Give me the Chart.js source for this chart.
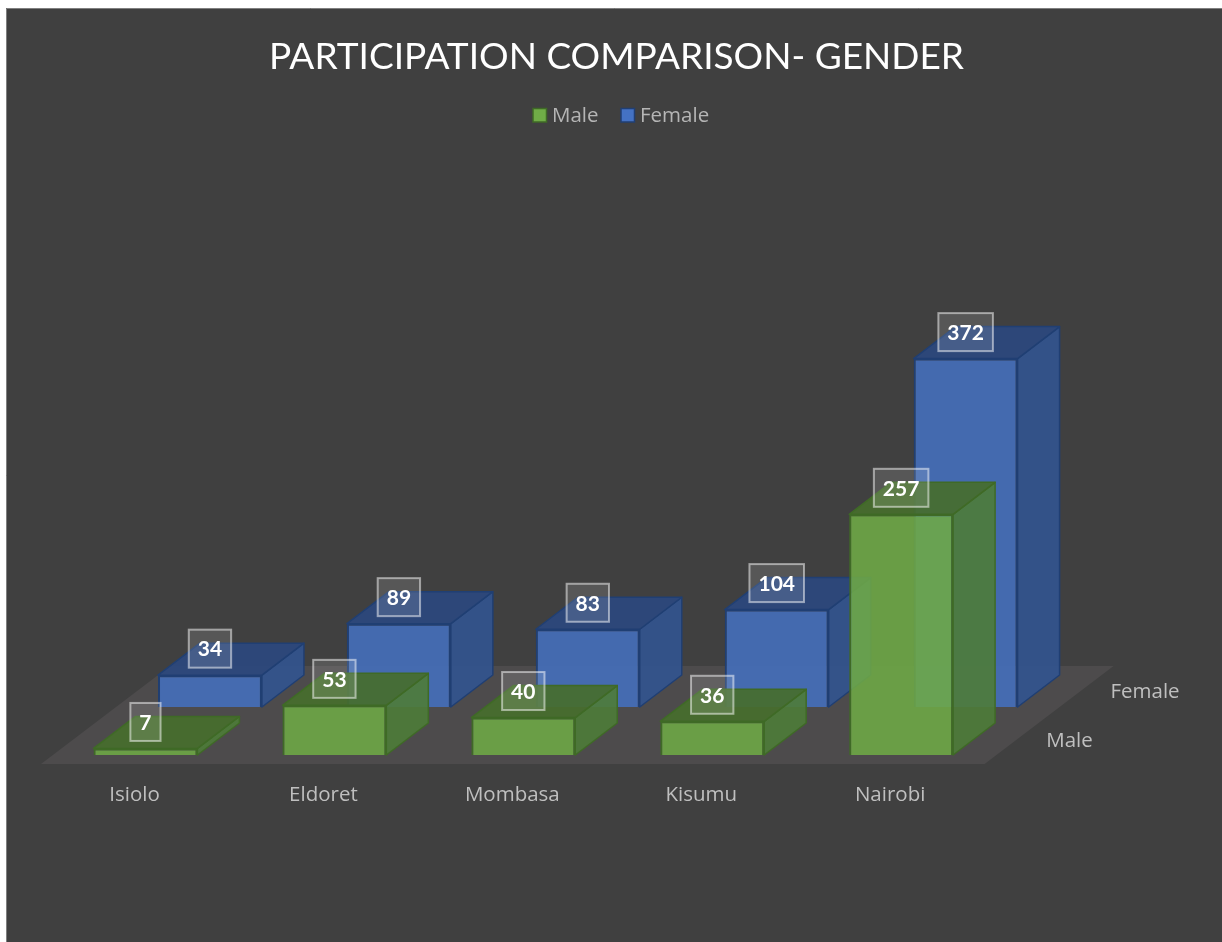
<!DOCTYPE html>
<html>
<head>
<meta charset="utf-8">
<style>html,body{margin:0;padding:0;background:#fff}canvas{display:block}</style>
<script src="https://cdn.jsdelivr.net/npm/chart.js@4"></script>
</head>
<body>
<div style="width:1222px;height:942px"><canvas id="c" width="1222" height="942"></canvas></div>
<script>
const categories = ['Isiolo', 'Eldoret', 'Mombasa', 'Kisumu', 'Nairobi'];
const maleValues = [7, 53, 40, 36, 257];
const femaleValues = [34, 89, 83, 104, 372];
const seriesNames = ['Male', 'Female'];
const chartTitle = 'PARTICIPATION COMPARISON- GENDER';

const LABEL_FONT = 'Open Sans';
const DEPTH = {dx: 42, dy: -32};
const SERIES_SHIFT = {dx: 64.5, dy: -48};
const looks = [
  {swatch: '#70ad47', front: 'rgba(110,170,70,0.88)', top: 'rgba(70,110,44,0.92)', side: 'rgba(78,124,56,0.9)', line: '#3f6a26', shift: {dx: 0, dy: 0}, axis: {x: 1069.5, y: 741}, legendX: 533},
  {swatch: '#4472c4', front: 'rgba(68,112,190,0.88)', top: 'rgba(43,72,126,0.92)', side: 'rgba(50,84,142,0.92)', line: '#203f73', shift: SERIES_SHIFT, axis: {x: 1145, y: 692}, legendX: 621}
];

function poly(ctx, pts, fill, line) {
  ctx.beginPath();
  pts.forEach((p, i) => i ? ctx.lineTo(p[0], p[1]) : ctx.moveTo(p[0], p[1]));
  ctx.closePath();
  ctx.fillStyle = fill;
  ctx.fill();
  if (line) { ctx.strokeStyle = line; ctx.lineWidth = 1.5; ctx.lineJoin = 'round'; ctx.stroke(); }
}

const scene = {
  id: 'scene',
  beforeDraw(chart) {
    const {ctx, width, height} = chart;
    ctx.save();
    ctx.fillStyle = '#fff';
    ctx.fillRect(0, 0, width, height);
    ctx.fillStyle = '#404040';
    ctx.fillRect(6, 8, width - 6, height - 8);
    ctx.strokeStyle = '#7f7f7f';
    ctx.lineWidth = 1;
    ctx.beginPath();
    ctx.moveTo(6.5, height); ctx.lineTo(6.5, 8.5); ctx.lineTo(width, 8.5);
    ctx.stroke();
    ctx.restore();
  },
  beforeDatasetsDraw(chart) {
    const {ctx, chartArea: a} = chart;
    const l = a.left - 10, r = a.right - 11, b = a.bottom + 9;
    poly(ctx, [[l, b], [r, b], [r + 129, b - 98], [l + 129, b - 98]], '#4d4b4c');
  },
  beforeDatasetDraw(chart, args) {
    const {ctx} = chart;
    const look = looks[args.index];
    ctx.save();
    ctx.translate(look.shift.dx, look.shift.dy);
    args.meta.data.forEach(bar => {
      const x0 = bar.x - bar.width / 2, x1 = bar.x + bar.width / 2;
      const {dx, dy} = DEPTH;
      poly(ctx, [[x1, bar.y], [x1 + dx, bar.y + dy], [x1 + dx, bar.base + dy], [x1, bar.base]], look.side, look.line);
      poly(ctx, [[x0, bar.y], [x0 + dx, bar.y + dy], [x1 + dx, bar.y + dy], [x1, bar.y]], look.top, look.line);
    });
  },
  afterDatasetDraw(chart) {
    chart.ctx.restore();
  },
  afterDatasetsDraw(chart) {
    const {ctx} = chart;
    ctx.save();
    ctx.textAlign = 'center';
    ctx.textBaseline = 'middle';
    [1, 0].forEach(i => {
      const look = looks[i];
      chart.getDatasetMeta(i).data.forEach((bar, j) => {
        const text = String(chart.data.datasets[i].data[j]);
        const cx = bar.x + look.shift.dx, cy = bar.y + look.shift.dy - 26.5;
        ctx.font = 'bold 21px Lato';
        const w = ctx.measureText(text).width + 18;
        ctx.fillStyle = 'rgba(255,255,255,0.12)';
        ctx.fillRect(cx - w / 2, cy - 19, w, 38);
        ctx.strokeStyle = 'rgba(255,255,255,0.5)';
        ctx.lineWidth = 2;
        ctx.strokeRect(cx - w / 2, cy - 19, w, 38);
        ctx.fillStyle = '#fff';
        ctx.fillText(text, cx, cy + 1);
      });
    });
    ctx.font = '20.5px "' + LABEL_FONT + '"';
    ctx.fillStyle = '#bfbfbf';
    seriesNames.forEach((n, i) => ctx.fillText(n, looks[i].axis.x, looks[i].axis.y));
    // legend
    ctx.textAlign = 'left';
    seriesNames.forEach((n, i) => {
      const look = looks[i];
      ctx.fillStyle = look.swatch;
      ctx.fillRect(look.legendX, 108.5, 13.5, 13.5);
      ctx.strokeStyle = look.line;
      ctx.lineWidth = 1.5;
      ctx.strokeRect(look.legendX, 108.5, 13.5, 13.5);
      ctx.fillStyle = '#b5b5b5';
      ctx.fillText(n, look.legendX + 19, 116);
    });
    ctx.restore();
  }
};

new Chart(document.getElementById('c'), {
  type: 'bar',
  data: {
    labels: categories,
    datasets: [
      {label: seriesNames[0], data: maleValues, order: 0, backgroundColor: looks[0].front, borderColor: looks[0].line, borderWidth: 2, grouped: false, categoryPercentage: 1, barPercentage: 0.55},
      {label: seriesNames[1], data: femaleValues, order: 1, backgroundColor: looks[1].front, borderColor: looks[1].line, borderWidth: 2, grouped: false, categoryPercentage: 1, barPercentage: 0.55}
    ]
  },
  options: {
    responsive: false,
    animation: false,
    layout: {padding: {left: 11, right: 0, top: 20, bottom: 0}},
    scales: {
      x: {
        offset: true,
        grid: {display: false},
        border: {display: false},
        ticks: {color: '#bfbfbf', font: {family: LABEL_FONT, size: 20.5}, padding: 20, labelOffset: -11, maxRotation: 0, autoSkip: false},
        afterFit(s) { s.height = 187; }
      },
      y: {
        min: 0, max: 646,
        grid: {display: false},
        border: {display: false},
        ticks: {display: false},
        afterFit(s) { s.width = 40; }
      },
      yRight: {
        position: 'right',
        grid: {display: false},
        border: {display: false},
        ticks: {display: false},
        afterFit(s) { s.width = 226.4; }
      }
    },
    plugins: {
      tooltip: {enabled: false},
      title: {display: true, text: chartTitle, color: '#fff', font: {family: 'Lato', size: 37, weight: 'normal'}, padding: {top: 15, bottom: 70.6}},
      legend: {display: false}
    }
  },
  plugins: [scene]
});
</script>
</body>
</html>
